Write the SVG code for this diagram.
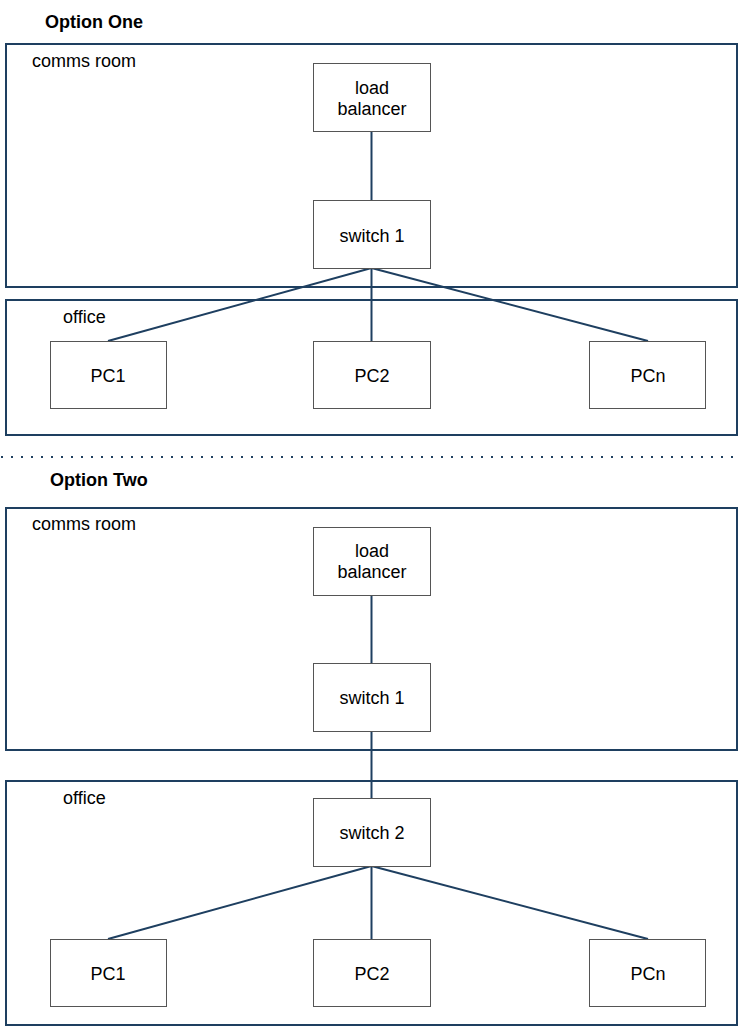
<svg xmlns="http://www.w3.org/2000/svg" width="741" height="1030" viewBox="0 0 741 1030">
<style>
text{font-family:"Liberation Sans",Arial,sans-serif;font-size:18px;fill:#000}
.title{font-weight:bold}
.zone{fill:none;stroke:#1e3f60;stroke-width:2}
.node rect{fill:#fff;stroke:#555;stroke-width:1}
.node text{text-anchor:middle}
.conn line{stroke:#1e3f60;stroke-width:2}
.sep{stroke:#1e3f60;stroke-width:2;stroke-dasharray:2 8}
</style>
<rect width="741" height="1030" fill="#fff"/>
<text class="title" x="45" y="28">Option One</text>
<g id="zone-comms1"><rect class="zone" x="6" y="44" width="731" height="243"/><text x="32" y="67">comms room</text></g>
<g id="zone-office1"><rect class="zone" x="6" y="300" width="731" height="135"/><text x="63" y="323">office</text></g>
<line class="sep" x1="1" y1="457" x2="741" y2="457"/>
<text class="title" x="50" y="486">Option Two</text>
<g id="zone-comms2"><rect class="zone" x="6" y="508" width="731" height="242"/><text x="32" y="530">comms room</text></g>
<g id="zone-office2"><rect class="zone" x="6" y="781" width="731" height="244"/><text x="63" y="804">office</text></g>
<g class="conn" id="connectors">
<line x1="371.5" y1="131" x2="371.5" y2="200"/>
<line x1="371.5" y1="268" x2="108" y2="341"/>
<line x1="371.5" y1="268" x2="371.5" y2="341"/>
<line x1="371.5" y1="268" x2="648" y2="341"/>
<line x1="371.5" y1="595" x2="371.5" y2="663"/>
<line x1="371.5" y1="731" x2="371.5" y2="798"/>
<line x1="371.5" y1="866" x2="108" y2="939"/>
<line x1="371.5" y1="866" x2="371.5" y2="939"/>
<line x1="371.5" y1="866" x2="648" y2="939"/>
</g>
<g class="node" id="lb1"><rect x="313.5" y="63.5" width="117" height="68"/><text x="372" y="94">load</text><text x="372" y="115">balancer</text></g>
<g class="node" id="sw1a"><rect x="313.5" y="200.5" width="117" height="68"/><text x="372" y="242">switch 1</text></g>
<g class="node" id="pc1a"><rect x="50.5" y="341.5" width="116" height="67"/><text x="108" y="382">PC1</text></g>
<g class="node" id="pc2a"><rect x="313.5" y="341.5" width="117" height="67"/><text x="372" y="382">PC2</text></g>
<g class="node" id="pcna"><rect x="589.5" y="341.5" width="116" height="67"/><text x="648" y="382">PCn</text></g>
<g class="node" id="lb2"><rect x="313.5" y="527.5" width="117" height="68"/><text x="372" y="557">load</text><text x="372" y="578">balancer</text></g>
<g class="node" id="sw1b"><rect x="313.5" y="663.5" width="117" height="68"/><text x="372" y="704">switch 1</text></g>
<g class="node" id="sw2"><rect x="313.5" y="798.5" width="117" height="68"/><text x="372" y="839">switch 2</text></g>
<g class="node" id="pc1b"><rect x="50.5" y="939.5" width="116" height="67"/><text x="108" y="980">PC1</text></g>
<g class="node" id="pc2b"><rect x="313.5" y="939.5" width="117" height="67"/><text x="372" y="980">PC2</text></g>
<g class="node" id="pcnb"><rect x="589.5" y="939.5" width="116" height="67"/><text x="648" y="980">PCn</text></g>
</svg>
